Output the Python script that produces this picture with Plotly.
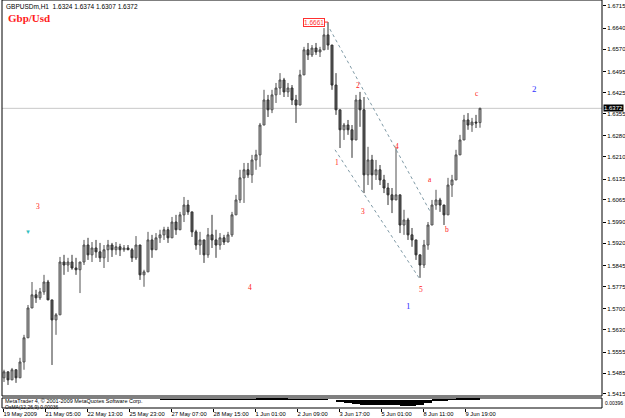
import plotly.graph_objects as go

# ---------------- data ----------------
opens = [1.5469,1.5489,1.5462,1.5496,1.5469,1.5522,1.5603,1.5703,1.5747,1.5737,
         1.5757,1.5790,1.5730,1.5663,1.5680,1.5857,1.5847,1.5857,1.5837,1.5831,
         1.5857,1.5914,1.5881,1.5904,1.5891,1.5871,1.5898,1.5914,1.5898,1.5908,
         1.5898,1.5904,1.5898,1.5871,1.5914,1.5814,1.5824,1.5931,1.5898,1.5938,
         1.5948,1.5965,1.5938,1.5991,1.5965,1.6015,1.6048,1.6025,1.5958,1.5914,
         1.5931,1.5881,1.5948,1.5931,1.5914,1.5938,1.5924,1.5948,1.6015,1.6065,
         1.6139,1.6166,1.6149,1.6199,1.6216,1.6316,1.6400,1.6367,1.6417,1.6440,
         1.6467,1.6427,1.6440,1.6400,1.6383,1.6484,1.6568,1.6551,1.6574,1.6561,
         1.6568,1.6618,1.6584,1.6450,1.6367,1.6300,1.6316,1.6300,1.6266,1.6400,
         1.6367,1.6149,1.6199,1.6149,1.6166,1.6132,1.6105,1.6082,1.6065,1.6082,
         1.5981,1.5998,1.5948,1.5931,1.5881,1.5847,1.5914,1.5981,1.6048,1.6065,
         1.6048,1.6015,1.6115,1.6132,1.6216,1.6266,1.6333,1.6316,1.6326,1.6324]
highs = [1.5496,1.5489,1.5502,1.5496,1.5536,1.5613,1.5713,1.5790,1.5764,1.5770,
         1.5814,1.5797,1.5730,1.5686,1.5874,1.5881,1.5871,1.5881,1.5871,1.5857,
         1.5931,1.5938,1.5924,1.5931,1.5921,1.5914,1.5931,1.5921,1.5924,1.5918,
         1.5914,1.5914,1.5904,1.5944,1.5914,1.5831,1.5958,1.5948,1.5954,1.5965,
         1.5975,1.5975,1.6008,1.6015,1.6025,1.6075,1.6065,1.6025,1.5965,1.5958,
         1.5931,1.5971,1.6015,1.5965,1.5954,1.5948,1.5958,1.6025,1.6082,1.6166,
         1.6189,1.6189,1.6216,1.6233,1.6323,1.6434,1.6417,1.6434,1.6457,1.6490,
         1.6474,1.6457,1.6450,1.6417,1.6501,1.6578,1.6591,1.6584,1.6591,1.6578,
         1.6641,1.6661,1.6584,1.6490,1.6367,1.6323,1.6333,1.6316,1.6417,1.6427,
         1.6410,1.6243,1.6216,1.6199,1.6182,1.6149,1.6122,1.6105,1.6239,1.6082,
         1.6032,1.6005,1.5971,1.5931,1.5881,1.5931,1.5991,1.6065,1.6099,1.6072,
         1.6048,1.6139,1.6149,1.6233,1.6283,1.6350,1.6356,1.6340,1.6350,1.6374]
lows = [1.5455,1.5445,1.5462,1.5452,1.5469,1.5496,1.5603,1.5703,1.5720,1.5730,
        1.5747,1.5730,1.5512,1.5613,1.5680,1.5814,1.5824,1.5831,1.5814,1.5753,
        1.5847,1.5864,1.5857,1.5871,1.5857,1.5837,1.5857,1.5874,1.5881,1.5877,
        1.5891,1.5898,1.5857,1.5864,1.5797,1.5774,1.5824,1.5871,1.5898,1.5921,
        1.5931,1.5921,1.5938,1.5948,1.5965,1.5991,1.6015,1.5941,1.5898,1.5881,
        1.5854,1.5871,1.5904,1.5871,1.5898,1.5914,1.5924,1.5941,1.6015,1.6055,
        1.6055,1.6139,1.6122,1.6166,1.6176,1.6316,1.6343,1.6356,1.6390,1.6417,
        1.6410,1.6410,1.6383,1.6323,1.6383,1.6484,1.6534,1.6544,1.6551,1.6544,
        1.6568,1.6568,1.6434,1.6350,1.6239,1.6266,1.6283,1.6206,1.6266,1.6310,
        1.6088,1.6115,1.6099,1.6132,1.6115,1.6088,1.6048,1.6021,1.6065,1.5954,
        1.5948,1.5931,1.5908,1.5864,1.5804,1.5837,1.5898,1.5981,1.6032,1.6025,
        1.5981,1.6015,1.6075,1.6132,1.6216,1.6266,1.6300,1.6293,1.6306,1.6307]
closes = [1.5489,1.5462,1.5496,1.5469,1.5522,1.5603,1.5703,1.5747,1.5737,1.5757,
          1.5790,1.5730,1.5663,1.5680,1.5857,1.5847,1.5857,1.5837,1.5831,1.5857,
          1.5914,1.5881,1.5904,1.5891,1.5871,1.5898,1.5914,1.5898,1.5908,1.5898,
          1.5904,1.5898,1.5871,1.5914,1.5814,1.5824,1.5931,1.5898,1.5938,1.5948,
          1.5965,1.5938,1.5991,1.5965,1.6015,1.6048,1.6025,1.5958,1.5914,1.5931,
          1.5881,1.5948,1.5931,1.5914,1.5938,1.5924,1.5948,1.6015,1.6065,1.6139,
          1.6166,1.6149,1.6199,1.6216,1.6316,1.6400,1.6367,1.6417,1.6440,1.6467,
          1.6427,1.6440,1.6400,1.6383,1.6484,1.6568,1.6551,1.6574,1.6561,1.6568,
          1.6618,1.6584,1.6450,1.6367,1.6300,1.6316,1.6300,1.6266,1.6400,1.6367,
          1.6149,1.6199,1.6149,1.6166,1.6132,1.6105,1.6082,1.6065,1.6082,1.5981,
          1.5998,1.5948,1.5931,1.5881,1.5847,1.5914,1.5981,1.6048,1.6065,1.6048,
          1.6015,1.6115,1.6132,1.6216,1.6266,1.6333,1.6316,1.6326,1.6323,1.6372]
bar_index = list(range(len(closes)))

date_labels = ["19 May 2009", "21 May 05:00", "22 May 13:00", "25 May 23:00",
               "27 May 07:00", "28 May 15:00", "1 Jun 01:00", "2 Jun 09:00",
               "3 Jun 17:00", "5 Jun 01:00", "8 Jun 11:00", "9 Jun 19:00"]
date_positions = [-0.25, 10.25, 20.75, 31.25, 41.75, 52.25, 62.75, 73.25,
                  83.75, 94.25, 104.75, 115.25]

price_ticks = [1.6715, 1.6640, 1.6570, 1.6495, 1.6425, 1.6355, 1.6280, 1.6210,
               1.6135, 1.6065, 1.5990, 1.5920, 1.5845, 1.5775, 1.5700, 1.5630,
               1.5555, 1.5485, 1.5415]

last_price = 1.6372
peak_price = 1.6661
peak_index = 81

# wave labels: (text, bar index, price, colour)
wave_text = ["2", "1", "3", "4", "5", "a", "b", "c", "3", "4", "1", "2", "▼"]
wave_x = [88.5, 83.25, 89.75, 98.25, 104.25, 106.5, 110.75, 118.25, 8.5, 61.5, 101, 132.5, 6]
wave_y = [1.6450, 1.6189, 1.6025, 1.6243, 1.5764, 1.6135, 1.5965, 1.6423,
          1.6042, 1.5770, 1.5710, 1.6437, 1.5958]
wave_color = ["red"] * 10 + ["blue", "blue", "cyan"]

# channel lines (start/end bar index, start/end price)
upper_x = [80.75, 106.75]
upper_y = [1.6655, 1.6021]
lower_x = [82.75, 103.75]
lower_y = [1.6233, 1.5804]

# oscillator panel
osma_index = list(range(40, 120, 2))
osma_values = [0.0001, 0.0002, 0.0002, 0.0003, 0.0002, 0.0001, 0.0001, 0.0002, 0.0001, 0.0002,
               0.0003, 0.0004, 0.0006, 0.0009, 0.0010, 0.0008, 0.0005, 0.0004, 0.0005, 0.0004,
               0.0003, 0.0000, -0.0015, -0.0025, -0.0030, -0.0035, -0.0038, -0.0036, -0.0034, -0.0036,
               -0.0040, -0.0042, -0.0035, -0.0020, -0.0008, -0.0002, 0.0003, 0.0008, 0.0011, 0.0010]

# ---------------- figure ----------------
FONT = "Liberation Sans, Arial, sans-serif"
SERIF = "Liberation Serif, Times New Roman, serif"

fig = go.Figure()

fig.add_trace(go.Candlestick(
    x=bar_index, open=opens, high=highs, low=lows, close=closes,
    increasing=dict(line=dict(color="#505050", width=1), fillcolor="#b0b0b0"),
    decreasing=dict(line=dict(color="#303030", width=1), fillcolor="#606060"),
    whiskerwidth=0, xaxis="x", yaxis="y", showlegend=False, hoverinfo="skip"))

fig.add_trace(go.Scatter(x=upper_x, y=upper_y, mode="lines",
                         line=dict(color="#7f9aa6", width=1, dash="dot"),
                         xaxis="x", yaxis="y", showlegend=False, hoverinfo="skip"))
fig.add_trace(go.Scatter(x=lower_x, y=lower_y, mode="lines",
                         line=dict(color="#7f9aa6", width=1, dash="dot"),
                         xaxis="x", yaxis="y", showlegend=False, hoverinfo="skip"))

fig.add_trace(go.Bar(x=osma_index, y=osma_values, width=2, marker=dict(color="black", line=dict(width=0)),
                     xaxis="x", yaxis="y2", showlegend=False, hoverinfo="skip"))

annotations = []
for t, x, y, c in zip(wave_text, wave_x, wave_y, wave_color):
    size = 9 if c == "blue" else (6 if c == "cyan" else 7.5)
    col = {"red": "#ff2020", "blue": "#3030ff", "cyan": "#30c0c0"}[c]
    annotations.append(dict(x=x, y=y, xref="x", yref="y", text=t, showarrow=False,
                            font=dict(family=SERIF, size=size, color=col)))

annotations += [
    dict(x=0.003, y=1.0, xref="paper", yref="paper", xanchor="left", yanchor="top", yshift=-1,
         text="GBPUSDm,H1  1.6324 1.6374 1.6307 1.6372", showarrow=False,
         font=dict(family=FONT, size=6.5, color="black")),
    dict(x=0.007, y=1.0, xref="paper", yref="paper", xanchor="left", yanchor="top", yshift=-10,
         text="<b>Gbp/Usd</b>", showarrow=False,
         font=dict(family=SERIF, size=11, color="#ff2020")),
    dict(x=peak_index, y=peak_price, xref="x", yref="y", xanchor="right", xshift=-3,
         text="1.6661", showarrow=False, bgcolor="white", bordercolor="#ff3030",
         borderwidth=1, borderpad=0, font=dict(family=FONT, size=6.5, color="#ff3030")),
    dict(x=1.0, y=last_price, xref="paper", yref="y", xanchor="left", xshift=1,
         text="1.6372", showarrow=False, bgcolor="black", borderpad=0,
         font=dict(family=FONT, size=6, color="white")),
    dict(x=0.002, y=0.0245, xref="paper", yref="paper", xanchor="left", yanchor="top", yshift=2,
         text="MetaTrader 4, © 2001-2009 MetaQuotes Software Corp.", showarrow=False,
         font=dict(family=FONT, size=5.5, color="black")),
    dict(x=0.002, y=0.0245, xref="paper", yref="paper", xanchor="left", yanchor="top", yshift=-4,
         text="OsMA(12,26,9) 0.00036", showarrow=False,
         font=dict(family=FONT, size=5, color="black")),
    dict(x=1.0, y=0.0245, xref="paper", yref="paper", xanchor="left", yanchor="top", xshift=1,
         text="0.00396", showarrow=False,
         font=dict(family=FONT, size=5, color="black")),
]

shapes = [
    dict(type="line", xref="x domain", yref="y", x0=0, x1=1, y0=last_price, y1=last_price,
         line=dict(color="#c8c8c8", width=1), layer="below"),
    dict(type="line", xref="x", yref="y", x0=peak_index - 0.8, x1=peak_index, y0=peak_price, y1=peak_price,
         line=dict(color="#ff3030", width=1)),
    dict(type="rect", xref="x domain", yref="y domain", x0=0, x1=1, y0=0, y1=1,
         line=dict(color="black", width=1)),
    dict(type="rect", xref="x domain", yref="y2 domain", x0=0, x1=1, y0=0, y1=1,
         line=dict(color="black", width=1)),
]

fig.update_layout(
    width=625, height=418,
    margin=dict(l=2, r=23, t=0, b=10, autoexpand=False),
    paper_bgcolor="white", plot_bgcolor="white",
    showlegend=False, bargap=0,
    font=dict(family=FONT, size=6, color="black"),
    xaxis=dict(range=[-0.5, 149.5], anchor="y2", rangeslider=dict(visible=False),
               tickmode="array", tickvals=date_positions, ticktext=date_labels,
               ticks="outside", ticklen=3, tickcolor="black", tickangle=0, automargin=False,
               ticklabelposition="outside right",
               tickfont=dict(family=FONT, size=5.8, color="black"),
               showgrid=False, zeroline=False, showline=False, fixedrange=True),
    yaxis=dict(domain=[0.0294, 1], range=[1.5408, 1.6735], side="right", anchor="x",
               tickmode="array", tickvals=price_ticks, automargin=False,
               ticktext=[f"{v:.4f}" for v in price_ticks],
               ticks="outside", ticklen=3, tickcolor="black",
               tickfont=dict(family=FONT, size=6, color="black"),
               showgrid=False, zeroline=False, showline=False),
    yaxis2=dict(domain=[0, 0.0245], range=[-0.0056, 0.0012], side="right", anchor="x",
                automargin=False,
                showticklabels=False, ticks="", showgrid=False, zeroline=False, showline=False),
    annotations=annotations,
    shapes=shapes,
)

fig.write_html("out.html")
